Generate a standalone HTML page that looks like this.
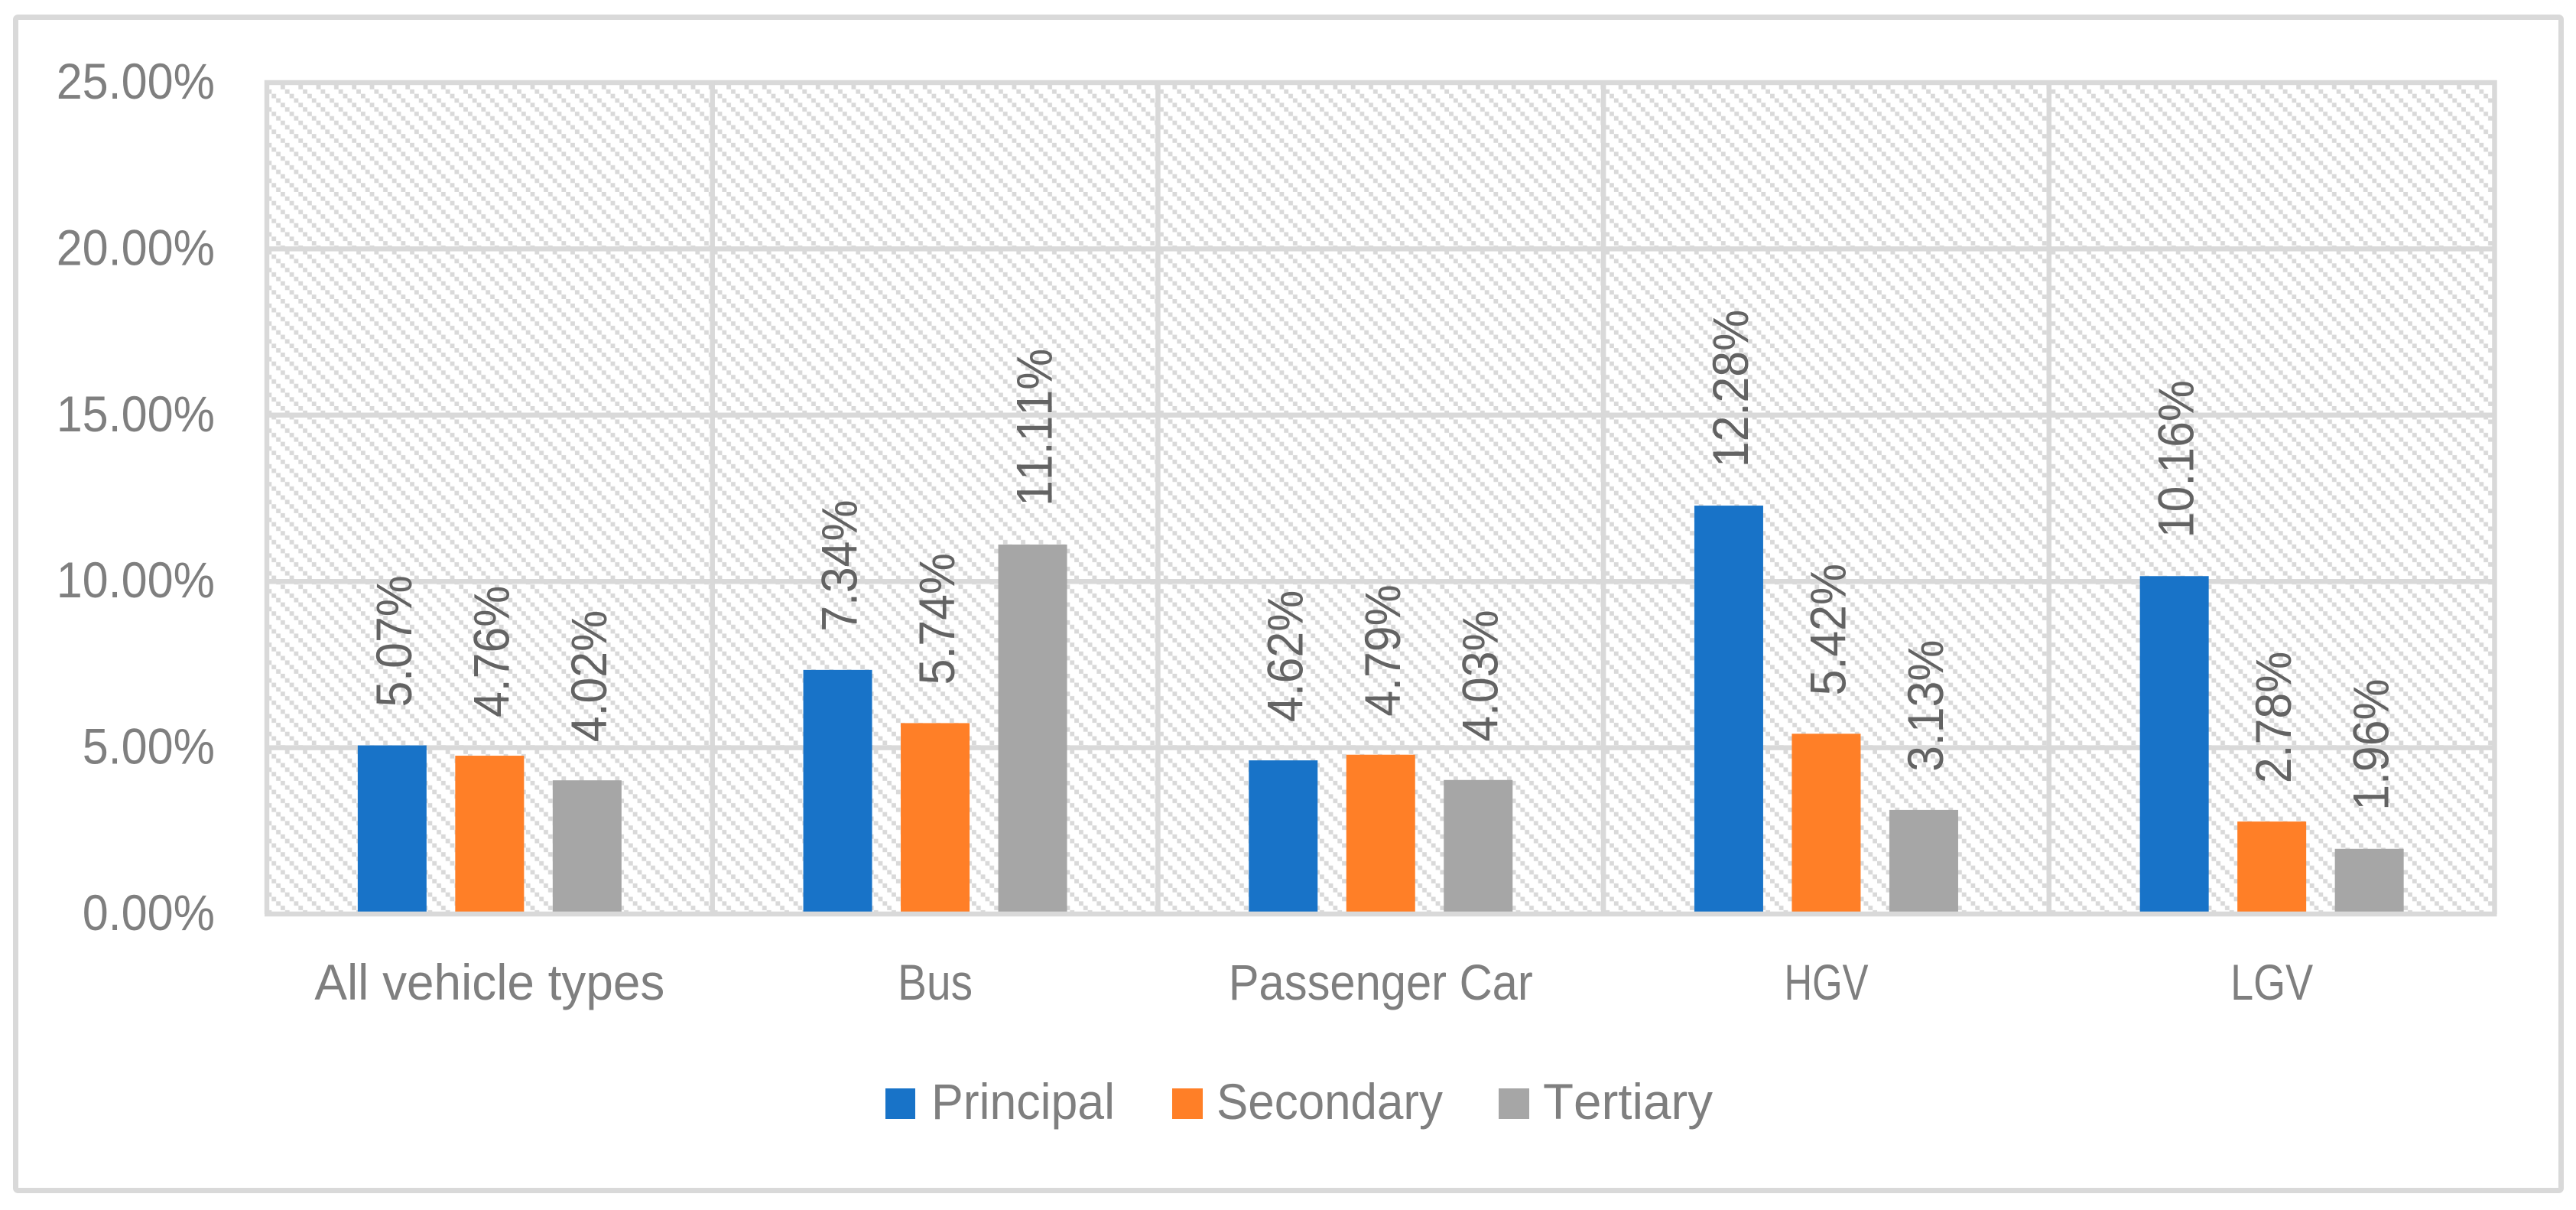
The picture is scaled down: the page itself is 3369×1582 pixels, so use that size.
<!DOCTYPE html>
<html lang="en">
<head>
<meta charset="utf-8">
<title>Chart</title>
<style>
html,body{margin:0;padding:0;background:#fff;}
svg{display:block;font-family:"Liberation Sans",sans-serif;font-kerning:none;}
.grid{stroke:#d9d9d9;stroke-width:6.5;fill:none;}
.tick{fill:#7f7f7f;font-size:65.5px;text-anchor:end;}
.cat{fill:#7f7f7f;font-size:65.5px;text-anchor:middle;}
.leg{fill:#7f7f7f;font-size:65.5px;}
.val{fill:#636363;font-size:65.5px;}
.s0{fill:#1873c8;}
.s1{fill:#ff7f27;}
.s2{fill:#a6a6a6;}
</style>
</head>
<body>
<svg id="chart" xmlns="http://www.w3.org/2000/svg" width="3369" height="1582" viewBox="0 0 3369 1582">
  <defs>
    <pattern id="hatch" patternUnits="userSpaceOnUse" x="355.3" y="111" width="23.33" height="23.33">
      <rect x="11.67" y="0" width="5.83" height="5.83" fill="#d9d9d9"/>
      <rect x="17.5" y="5.83" width="5.83" height="5.83" fill="#d9d9d9"/>
      <rect x="0" y="11.67" width="5.83" height="5.83" fill="#d9d9d9"/>
      <rect x="5.83" y="17.5" width="5.83" height="5.83" fill="#d9d9d9"/>
    </pattern>
  </defs>
  <rect x="0" y="0" width="3369" height="1582" fill="#fff"/>
  <rect x="20.5" y="22.5" width="3329" height="1534" rx="3" fill="#fff" stroke="#d9d9d9" stroke-width="7"/>
  <rect x="349" y="108" width="2913.5" height="1087" fill="url(#hatch)"/>
  <g id="gridLayer"></g>
  <g id="barLayer"></g>
  <g id="axisLayer"></g>
  <g id="valueLayer"></g>
  <g>
    <g>
      <rect class="s0" x="1158" y="1423" width="39" height="40"/>
      <text class="leg" x="1218" y="1463" textLength="240" lengthAdjust="spacingAndGlyphs">Principal</text>
    </g>
    <g>
      <rect class="s1" x="1533" y="1423" width="40" height="40"/>
      <text class="leg" x="1591" y="1463" textLength="296" lengthAdjust="spacingAndGlyphs">Secondary</text>
    </g>
    <g>
      <rect class="s2" x="1960" y="1423" width="40" height="40"/>
      <text class="leg" x="2018" y="1463" textLength="222" lengthAdjust="spacingAndGlyphs">Tertiary</text>
    </g>
  </g>
</svg>
<script>
const categories = ["All vehicle types", "Bus", "Passenger Car", "HGV", "LGV"];
const principal = [5.07, 7.34, 4.62, 12.28, 10.16];
const secondary = [4.76, 5.74, 4.79, 5.42, 2.78];
const tertiary = [4.02, 11.11, 4.03, 3.13, 1.96];
const tickValues = [0, 5, 10, 15, 20, 25];

const SVGNS = "http://www.w3.org/2000/svg";
const plot = { left: 349, right: 3262.5, top: 108, bottom: 1195, max: 25 };
const seriesList = [principal, secondary, tertiary];
const seriesKeys = ["principal", "secondary", "tertiary"];
const categoryFit = { "All vehicle types": 458, "Bus": 98, "Passenger Car": 398, "HGV": 110, "LGV": 108 };
const barWidth = 90;
const barStep = 127.5;

function yScale(v) {
  return plot.bottom - (v / plot.max) * (plot.bottom - plot.top);
}
function bandWidth() {
  return (plot.right - plot.left) / categories.length;
}
function xBand(i) {
  return plot.left + i * bandWidth();
}
function xBarCenter(i, s) {
  return xBand(i) + bandWidth() / 2 + (s - 1) * barStep;
}
function fmt(v) {
  return v.toFixed(2) + "%";
}
function make(tag, parent, attrs, text) {
  const el = document.createElementNS(SVGNS, tag);
  for (const k in attrs) el.setAttribute(k, attrs[k]);
  if (text !== undefined) el.textContent = text;
  parent.appendChild(el);
  return el;
}
function condense(el, factor) {
  el.setAttribute("textLength", (el.getComputedTextLength() * factor).toFixed(1));
  el.setAttribute("lengthAdjust", "spacingAndGlyphs");
}

const gridLayer = document.getElementById("gridLayer");
const barLayer = document.getElementById("barLayer");
const axisLayer = document.getElementById("axisLayer");
const valueLayer = document.getElementById("valueLayer");

tickValues.forEach(function (t) {
  const y = yScale(t);
  if (t > 0) {
    const line = make("line", gridLayer, { class: "grid", x1: plot.left - 3, x2: plot.right + 3, y1: y, y2: y });
    
    
  }
  const label = make("text", axisLayer, { class: "tick", x: 281, y: y + 21 }, t.toFixed(2) + "%");
  
  
  condense(label, 0.933);
});

for (let i = 0; i <= categories.length; i++) {
  const x = xBand(i);
  const line = make("line", gridLayer, { class: "grid", x1: x, x2: x, y1: plot.top - 3, y2: plot.bottom });
  
  
}

categories.forEach(function (c, i) {
  const label = make("text", axisLayer, { class: "cat", x: xBand(i) + bandWidth() / 2, y: 1307 }, c);
  
  
  if (categoryFit[c]) {
    label.setAttribute("textLength", categoryFit[c]);
    label.setAttribute("lengthAdjust", "spacingAndGlyphs");
  }
  seriesList.forEach(function (series, s) {
    const v = series[i];
    const cx = xBarCenter(i, s);
    const top = yScale(v);
    const bar = make("rect", barLayer, { class: "s" + s, x: cx - barWidth / 2, y: top, width: barWidth, height: plot.bottom - top });
    
    
    const bx = cx + 25;
    const by = top - 50;
    const val = make("text", valueLayer, { class: "val", x: 0, y: 0, transform: "translate(" + bx + " " + by + ") rotate(-90)" }, fmt(v));
    
    
    condense(val, 0.928);
  });
});

const axisLine = make("line", axisLayer, { class: "grid", x1: plot.left - 3, x2: plot.right + 3, y1: plot.bottom, y2: plot.bottom });


</script>
</body>
</html>
